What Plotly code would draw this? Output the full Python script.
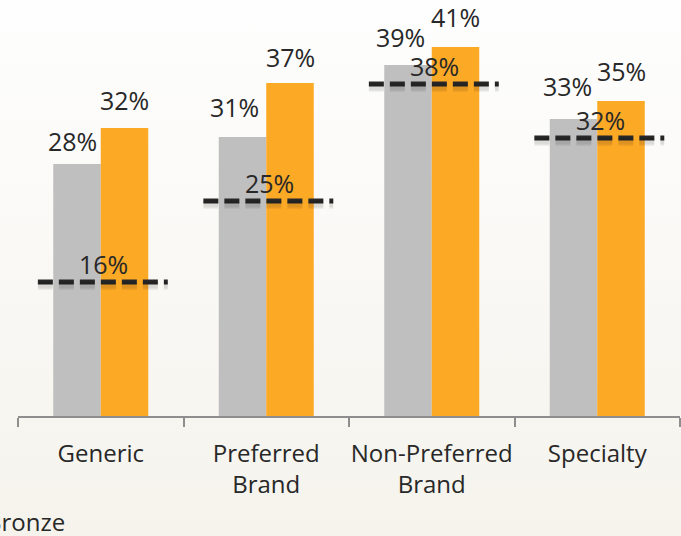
import plotly.graph_objects as go

# Tier data (percent)
categories = ["Generic", "Preferred<br>Brand", "Non-Preferred<br>Brand", "Specialty"]
series_gray = [28, 31, 39, 33]
series_orange = [32, 37, 41, 35]
benchmark = [16, 25, 38, 32]

GRAY = "#BFBFBF"
ORANGE = "#FCA926"
INK = "#282828"
AXIS = "#8E8E8E"
FONT = "Open Sans"

W, H = 681, 536
X0, X1 = 18, 680          # plot area, px
BASE = 416                # baseline, px from top
PX_PER_PCT = 9.0
y_top = BASE / PX_PER_PCT
LINE_SHIFT = 1.1          # benchmark lines sit slightly below their label anchor
SHADOW_SHIFT = 0.4

xs = list(range(len(categories)))

fig = go.Figure()

# soft vertical background gradient across the whole canvas
fig.add_trace(go.Scatter(
    x=[0, 1, 1, 0, 0], y=[0, 0, 1, 1, 0], xaxis="x", yaxis="y",
    mode="lines", line=dict(width=0), fill="toself",
    fillgradient=dict(type="vertical",
                      colorscale=[[0, "#F5F3EC"], [1, "#FEFEFE"]]),
    hoverinfo="skip", showlegend=False))

fig.add_trace(go.Bar(x=xs, y=series_gray, marker=dict(color=GRAY, line=dict(width=0)),
                     xaxis="x2", yaxis="y2", showlegend=False))
fig.add_trace(go.Bar(x=xs, y=series_orange, marker=dict(color=ORANGE, line=dict(width=0)),
                     xaxis="x2", yaxis="y2", showlegend=False))

# dashed benchmark lines (with a soft shadow underneath)
L_LEFT, L_RIGHT = 0.38, 0.405
lx, ly = [], []
for i, v in zip(xs, benchmark):
    lx += [i - L_LEFT, i + L_RIGHT, None]
    ly += [v, v, None]

for width, alpha in [(9, 0.05), (6, 0.08)]:
    fig.add_trace(go.Scatter(x=lx, y=ly, xaxis="x2", yaxis="y4", mode="lines",
                             line=dict(color=f"rgba(0,0,0,{alpha})", width=width,
                                       dash="15px,6px"),
                             hoverinfo="skip", showlegend=False))
fig.add_trace(go.Scatter(x=lx, y=ly, xaxis="x2", yaxis="y3", mode="lines",
                         line=dict(color=INK, width=5, dash="15px,6px"),
                         hoverinfo="skip", showlegend=False))

annotations = []
BAR_HALF = 0.1435
gray_shift = [(-5, 23), (-8, 30), (-8, 28), (-6, 33)]
orange_shift = [(0, 28), (0, 26), (0, 30), (0, 30)]
for i in xs:
    dx, dy = gray_shift[i]
    annotations.append(dict(x=i - BAR_HALF, y=series_gray[i], xref="x2", yref="y2",
                            text=f"{series_gray[i]}%", showarrow=False,
                            xanchor="center", yanchor="middle", xshift=dx, yshift=dy,
                            font=dict(family=FONT, size=25, color=INK)))
    dx, dy = orange_shift[i]
    annotations.append(dict(x=i + BAR_HALF, y=series_orange[i], xref="x2", yref="y2",
                            text=f"{series_orange[i]}%", showarrow=False,
                            xanchor="center", yanchor="middle", xshift=dx, yshift=dy,
                            font=dict(family=FONT, size=25, color=INK)))
    annotations.append(dict(x=i, y=benchmark[i], xref="x2", yref="y2",
                            text=f"{benchmark[i]}%", showarrow=False,
                            xanchor="center", yanchor="middle", xshift=3, yshift=8,
                            font=dict(family=FONT, size=25, color=INK)))

# partially visible legend entry at the lower-left corner
annotations.append(dict(x=-16 / W, y=(H - 521) / H, xref="paper", yref="paper",
                        text="Bronze", showarrow=False, xanchor="left", yanchor="middle",
                        font=dict(family=FONT, size=24, color=INK)))

dom_x = [X0 / W, X1 / W]
dom_y = [(H - BASE) / H, 1]

fig.update_layout(
    width=W, height=H, autosize=False,
    margin=dict(l=0, r=0, t=0, b=0, pad=0),
    paper_bgcolor="#FBFAF7", plot_bgcolor="rgba(0,0,0,0)",
    barmode="group", bargap=0.426, bargroupgap=0,
    font=dict(family=FONT, color=INK),
    xaxis=dict(domain=[0, 1], range=[0, 1], visible=False, fixedrange=True),
    yaxis=dict(domain=[0, 1], range=[0, 1], visible=False, fixedrange=True),
    xaxis2=dict(domain=dom_x, anchor="y2", range=[-0.5, len(categories) - 0.5],
                tickmode="array", tickvals=xs, ticktext=categories,
                ticks="", showgrid=False, zeroline=False,
                showline=True, linecolor=AXIS, linewidth=2,
                ticklabelstandoff=15,
                tickfont=dict(family=FONT, size=24, color=INK),
                minor=dict(tickmode="array",
                           tickvals=[i - 0.5 for i in range(len(categories) + 1)],
                           ticks="outside", ticklen=9, tickwidth=1.5, tickcolor=AXIS,
                           showgrid=False),
                automargin=False),
    yaxis2=dict(domain=dom_y, anchor="x2", range=[0, y_top], visible=False),
    yaxis3=dict(overlaying="y2", anchor="x2", range=[LINE_SHIFT, y_top + LINE_SHIFT],
                visible=False),
    yaxis4=dict(overlaying="y2", anchor="x2",
                range=[LINE_SHIFT + SHADOW_SHIFT, y_top + LINE_SHIFT + SHADOW_SHIFT],
                visible=False),
    annotations=annotations,
)

fig.write_html("out.html")
